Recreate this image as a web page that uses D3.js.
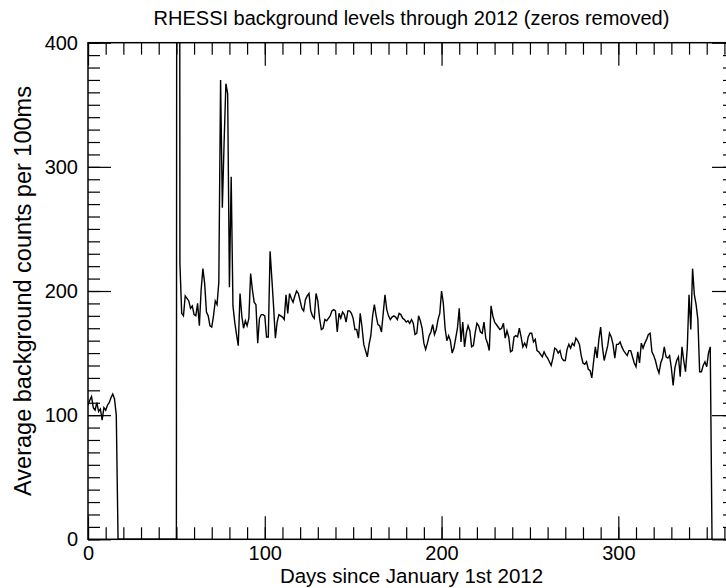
<!DOCTYPE html>
<html>
<head>
<meta charset="utf-8">
<script src="https://cdn.jsdelivr.net/npm/d3@7"></script>
<style>
  body { margin: 0; background: #fff; }
  svg { display: block; font-family: "Liberation Sans", Arial, Helvetica, sans-serif; }
</style>
</head>
<body>
<svg width="726" height="588"></svg>
<script>
// background level per day of 2012, index = day since Jan 1st
const counts = [
  108,112,115,106,104,110,103,105,96,106,
  104,108,110,114,117,113,100,0,0,0,
  0,0,0,0,0,0,0,0,0,0,
  0,0,0,0,0,0,0,0,0,0,
  0,0,0,0,0,0,0,0,0,0,
  0,2500,222,182,180,196,194,192,186,188,
  181,180,190,172,201,218,206,183,180,172,
  171,180,192,189,207,370,267,320,367,359,
  203,292,188,175,165,156,198,180,170,176,
  172,178,214,201,191,189,158,178,181,181,
  180,163,163,232,210,187,162,175,181,180,
  179,177,197,182,198,194,191,196,200,198,
  192,186,184,193,196,198,184,180,178,198,
  192,178,169,170,177,176,178,180,184,185,
  184,167,182,178,183,181,175,184,184,182,
  178,169,169,162,182,171,157,152,147,157,
  164,180,189,180,173,172,167,182,197,185,
  180,177,179,180,179,177,182,181,178,177,
  175,176,174,177,174,165,166,180,176,170,
  158,153,158,164,167,173,165,169,177,182,
  200,190,170,160,164,160,150,154,162,170,
  186,159,175,155,166,172,168,155,156,166,
  174,172,167,166,175,162,158,152,188,180,
  175,173,171,169,170,174,162,168,163,151,
  152,163,164,163,170,163,155,158,155,163,
  166,166,159,161,152,151,149,147,151,148,
  146,143,140,146,154,153,150,152,146,144,
  144,153,157,154,158,156,162,160,157,148,
  142,141,143,137,136,130,143,155,146,161,
  171,155,144,150,156,166,163,157,146,157,
  157,159,155,152,150,148,152,152,147,142,
  139,151,142,158,154,158,161,165,166,151,
  148,144,138,134,142,146,155,147,146,148,
  138,124,138,144,147,131,155,144,135,154,
  197,169,218,197,189,177,135,135,140,143,
  139,150,155,0
];
const xMajor = [0, 100, 200, 300];
const xMinor = d3.range(0, 367, 10);
const yMajor = [0, 100, 200, 300, 400];
const yMinor = d3.range(0, 401, 10);

const titleText = 'RHESSI background levels through 2012 (zeros removed)';
const xTitle = 'Days since January 1st 2012';
const yTitle = 'Average background counts per 100ms';

const svg = d3.select('svg');
const plotL = 88, plotR = 735, plotT = 42.7, plotB = 539.3;

const x = d3.scaleLinear().domain([0, 366]).range([plotL, plotR]);
const y = d3.scaleLinear().domain([0, 400]).range([plotB, plotT]);

// clip the data to the plot box (the day 51 spike goes off the top)
svg.append('clipPath').attr('id', 'box')
  .append('rect')
  .attr('x', plotL).attr('y', plotT)
  .attr('width', plotR - plotL).attr('height', plotB - plotT);

const line = d3.line()
  .x((d, i) => x(i))
  .y(d => y(d));

svg.append('path')
  .datum(counts)
  .attr('clip-path', 'url(#box)')
  .attr('fill', 'none')
  .attr('stroke', '#000')
  .attr('stroke-width', 1.4)
  .attr('d', line);

// axes: IDL style, ticks on all four sides pointing inward
function drawAxis(axis, tx, ty, values, size, labels) {
  const g = svg.append('g')
    .attr('transform', `translate(${tx},${ty})`)
    .call(axis.tickValues(values).tickSizeInner(-size).tickSizeOuter(0).tickPadding(7)
      .tickFormat(labels ? d3.format('d') : ''));
  g.select('.domain').remove();
  g.selectAll('.tick line').attr('stroke', '#000').attr('stroke-width', 1.2);
  g.selectAll('.tick text').attr('fill', '#000').style('font-size', '20px');
  return g;
}

drawAxis(d3.axisBottom(x), 0, plotB, xMinor, 12, false);
drawAxis(d3.axisBottom(x), 0, plotB, xMajor, 23, true);
drawAxis(d3.axisTop(x), 0, plotT, xMinor, 12, false);
drawAxis(d3.axisTop(x), 0, plotT, xMajor, 23, false);
drawAxis(d3.axisLeft(y), plotL, 0, yMinor, 12, false);
drawAxis(d3.axisLeft(y), plotL, 0, yMajor, 23, true)
  .selectAll('.tick text').attr('x', -10);
drawAxis(d3.axisRight(y), plotR, 0, yMinor, 12, false);
drawAxis(d3.axisRight(y), plotR, 0, yMajor, 23, false);

svg.append('rect')
  .attr('x', plotL).attr('y', plotT)
  .attr('width', plotR - plotL).attr('height', plotB - plotT)
  .attr('fill', 'none')
  .attr('stroke', '#000')
  .attr('stroke-width', 1.5);

svg.append('text')
  .attr('x', (plotL + plotR) / 2).attr('y', 25)
  .attr('text-anchor', 'middle')
  .style('font-size', '20px')
  .text(titleText);

svg.append('text')
  .attr('x', (plotL + plotR) / 2).attr('y', 583)
  .attr('text-anchor', 'middle')
  .style('font-size', '20.5px')
  .text(xTitle);

svg.append('text')
  .attr('transform', `translate(31,${(plotT + plotB) / 2}) rotate(-90)`)
  .attr('text-anchor', 'middle')
  .style('font-size', '23.5px')
  .text(yTitle);
</script>
</body>
</html>
